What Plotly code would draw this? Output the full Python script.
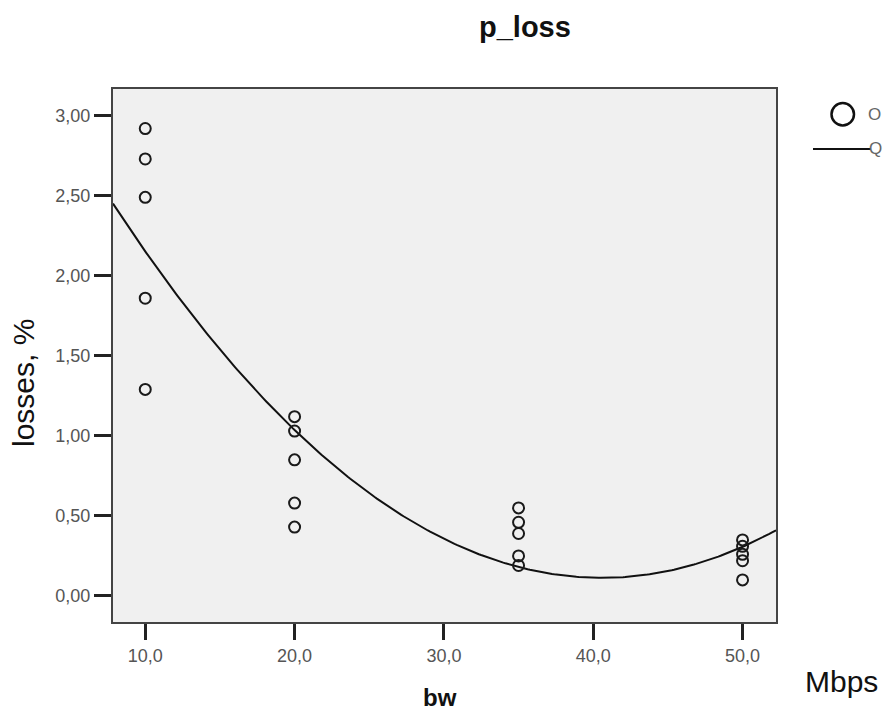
import numpy as np
import plotly.graph_objects as go

# Observed packet loss (%) for each bandwidth setting (Mbps)
bw = [10, 10, 10, 10, 10,
      20, 20, 20, 20, 20,
      35, 35, 35, 35, 35,
      50, 50, 50, 50, 50]
losses = [2.92, 2.73, 2.49, 1.86, 1.29,
          1.12, 1.03, 0.85, 0.58, 0.43,
          0.55, 0.46, 0.39, 0.25, 0.19,
          0.35, 0.31, 0.26, 0.22, 0.10]

# Axis ticks with comma decimal separator
x_tickvals = [10, 20, 30, 40, 50]
x_ticktext = ["10,0", "20,0", "30,0", "40,0", "50,0"]
y_tickvals = [0.0, 0.5, 1.0, 1.5, 2.0, 2.5, 3.0]
y_ticktext = ["0,00", "0,50", "1,00", "1,50", "2,00", "2,50", "3,00"]

x_range = [7.84, 52.24]
y_range = [-0.163, 3.167]

# Quadratic fit of losses on bandwidth
coef = np.polyfit(bw, losses, 2)
xf = np.linspace(x_range[0], x_range[1], 300)
yf = np.polyval(coef, xf)

fig = go.Figure()
fig.add_trace(go.Scatter(
    x=xf, y=yf, mode="lines",
    line=dict(color="#111111", width=2),
    showlegend=False, hoverinfo="skip",
))
fig.add_trace(go.Scatter(
    x=bw, y=losses, mode="markers",
    marker=dict(symbol="circle-open", size=11, color="#1a1a1a",
                line=dict(width=2, color="#1a1a1a")),
    showlegend=False,
))

font_main = "Liberation Sans, Arial, sans-serif"

fig.update_layout(
    width=884, height=713,
    margin=dict(l=113, r=108, t=89, b=91),
    paper_bgcolor="white",
    plot_bgcolor="#f0f0f0",
    font=dict(family=font_main, color="#555555"),
    showlegend=False,
)

fig.update_xaxes(
    range=x_range, tickvals=x_tickvals, ticktext=x_ticktext,
    ticks="outside", ticklen=16, tickwidth=3, tickcolor="#222222",
    tickfont=dict(size=18, color="#555555", family=font_main),
    showgrid=False, zeroline=False,
    showline=True, linecolor="#444444", linewidth=2, mirror=True,
)
fig.update_yaxes(
    range=y_range, tickvals=y_tickvals, ticktext=y_ticktext,
    ticks="outside", ticklen=17, tickwidth=3, tickcolor="#222222",
    tickfont=dict(size=18, color="#555555", family=font_main),
    showgrid=False, zeroline=False,
    showline=True, linecolor="#444444", linewidth=2, mirror=True,
)

# text placed by pixel position (x from left, y from top)
annotations = [
    dict(text="<b>p_loss</b>", x=525, y=27,
         font=dict(size=29, color="#111111", family=font_main)),
    dict(text="<b>bw</b>", x=440, y=697,
         font=dict(size=24, color="#111111", family=font_main)),
    dict(text="Mbps", x=841, y=681,
         font=dict(size=30, color="#111111", family=font_main)),
    dict(text="losses, %", x=23, y=383, textangle=-90,
         font=dict(size=30, color="#111111", family=font_main)),
    dict(text="O", x=874, y=114,
         font=dict(size=17, color="#666666", family=font_main)),
    dict(text="Q", x=876, y=149,
         font=dict(size=17, color="#666666", family=font_main)),
]

# convert pixel positions into paper coordinates
W, H = 884, 713
ml, mr, mt, mb = 113, 108, 89, 91
pw, ph = W - ml - mr, H - mt - mb


def px(x):
    return (x - ml) / pw


def py(y):
    return (H - mb - y) / ph


final_ann = []
for a in annotations:
    a = dict(a)
    a["x"] = px(a["x"])
    a["y"] = py(a["y"])
    a["xref"] = "paper"
    a["yref"] = "paper"
    a["xanchor"] = "center"
    a["yanchor"] = "middle"
    a["showarrow"] = False
    final_ann.append(a)
fig.update_layout(annotations=final_ann)

# legend symbols drawn next to the plot
fig.add_shape(type="circle", xref="paper", yref="paper",
              x0=px(831.5), x1=px(854), y0=py(125.5), y1=py(103),
              line=dict(color="#111111", width=2.5))
fig.add_shape(type="line", xref="paper", yref="paper",
              x0=px(813), x1=px(871), y0=py(149), y1=py(149),
              line=dict(color="#111111", width=2))

fig.write_html("out.html")
